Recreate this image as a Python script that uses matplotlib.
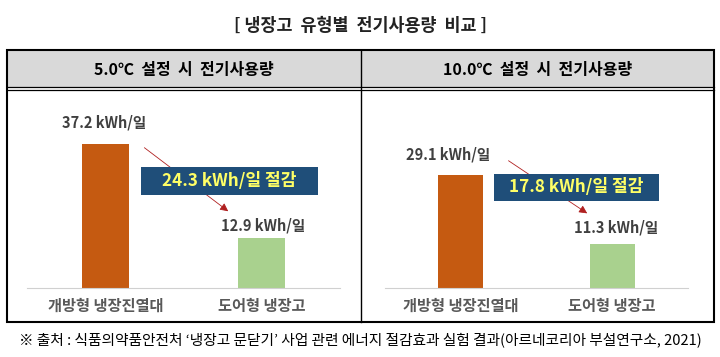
import matplotlib
matplotlib.use("Agg")
import matplotlib.pyplot as plt
from matplotlib.patches import Rectangle

plt.rcParams["font.family"] = ["Noto Sans CJK KR", "DejaVu Sans"]

TITLE = "[ 냉장고 유형별 전기사용량 비교 ]"
PANEL_TITLES = ["5.0℃ 설정 시 전기사용량", "10.0℃ 설정 시 전기사용량"]
CATEGORIES = ["개방형 냉장진열대", "도어형 냉장고"]
USAGE_5C = [37.2, 12.9]
USAGE_10C = [29.1, 11.3]
SOURCE = "※ 출처 : 식품의약품안전처 ‘냉장고 문닫기’ 사업 관련 에너지 절감효과 실험 결과(아르네코리아 부설연구소, 2021)"

BAR_COLORS = ["#c55a11", "#a9d18e"]
BOX_COLOR = "#1f4e79"
TEXT_GRAY = "#404040"

W, H = 720, 357
fig = plt.figure(figsize=(W / 100, H / 100), dpi=100)

# table frame drawn in pixel coords
frame = fig.add_axes([0, 0, 1, 1])
frame.set_xlim(0, W)
frame.set_ylim(H, 0)
frame.axis("off")
L, R, T, B, MID = 7, 714, 50, 322, 361
frame.add_patch(Rectangle((L, T), R - L, 37, facecolor="#d9d9d9", edgecolor="none"))
frame.add_patch(Rectangle((L, T), R - L, B - T, facecolor="none", edgecolor="black", lw=1.5))
frame.plot([MID, MID], [T, B], color="black", lw=1.0)
frame.plot([L, R], [87, 87], color="black", lw=0.9)
frame.plot([L, R], [90, 90], color="black", lw=0.9)
frame.text(W / 2, 26, TITLE.replace(" ", "  ").replace("[  ", "[ ").replace("  ]", " ]"),
           ha="center", va="center", fontsize=12.5, fontweight="bold", color="#222222")
for cx, t in zip([(L + MID) / 2, (MID + R) / 2], PANEL_TITLES):
    frame.text(cx, 70, t.replace(" ", "  "), ha="center", va="center", fontsize=11.5,
               fontweight="bold", color="black")
frame.text(W / 2, 340, SOURCE, ha="center", va="center", fontsize=10.6, color="black")


def px_axes(x0, x1, ytop, ybase):
    return fig.add_axes([x0 / W, (H - ybase) / H, (x1 - x0) / W, (ybase - ytop) / H])


def draw_panel(ax, values, label_offsets, box, arrow):
    x = [0, 1]
    ax.bar(x, values, width=0.3, color=BAR_COLORS, zorder=2)
    ax.set_xlim(-0.5, 1.5)
    ax.set_ylim(0, 48.6)
    for s in ["top", "right", "left"]:
        ax.spines[s].set_visible(False)
    ax.spines["bottom"].set_color("#d0d0d0")
    ax.set_yticks([])
    ax.set_xticks(x)
    ax.set_xticklabels(CATEGORIES, fontsize=11, fontweight="bold", color="#595959")
    ax.tick_params(axis="x", length=0, pad=7)
    ax.patch.set_alpha(0)
    for xi, v, (dx, dy) in zip(x, values, label_offsets):
        ax.annotate(f"{v} kWh/일", (xi, v), xytext=(dx, dy), textcoords="offset points",
                    ha="center", va="bottom", fontsize=10.5, fontweight="bold", color=TEXT_GRAY)
    (ax0, ay0), (ax1, ay1) = arrow
    ax.annotate("", xy=(ax1, ay1), xytext=(ax0, ay0),
                arrowprops=dict(arrowstyle="-|>", color="#b02020", lw=0.6, mutation_scale=12),
                zorder=3)
    bx0, bx1, by0, by1 = box
    ax.add_patch(Rectangle((bx0, by0), bx1 - bx0, by1 - by0, facecolor=BOX_COLOR,
                           edgecolor="none", zorder=4))
    saving = round(values[0] - values[1], 1)
    ax.text((bx0 + bx1) / 2, (by0 + by1) / 2, f"{saving} kWh/일 절감", ha="center", va="center",
            fontsize=12.3, fontweight="bold", color="#ffff66", zorder=5)


ax_l = px_axes(27, 340, 100, 288)
draw_panel(ax_l, USAGE_5C, [(-1, 10), (1, 3)],
           (0.23, 1.36, 24.0, 31.3), ((0.236, 36.7), (0.80, 19.4)))

ax_r = px_axes(385, 688, 100, 288)
draw_panel(ax_r, USAGE_10C, [(-9, 9), (3, 6)],
           (0.22, 1.31, 22.5, 29.5), ((0.30, 33.3), (0.85, 18.9)))

fig.savefig("out.png", dpi=100)
